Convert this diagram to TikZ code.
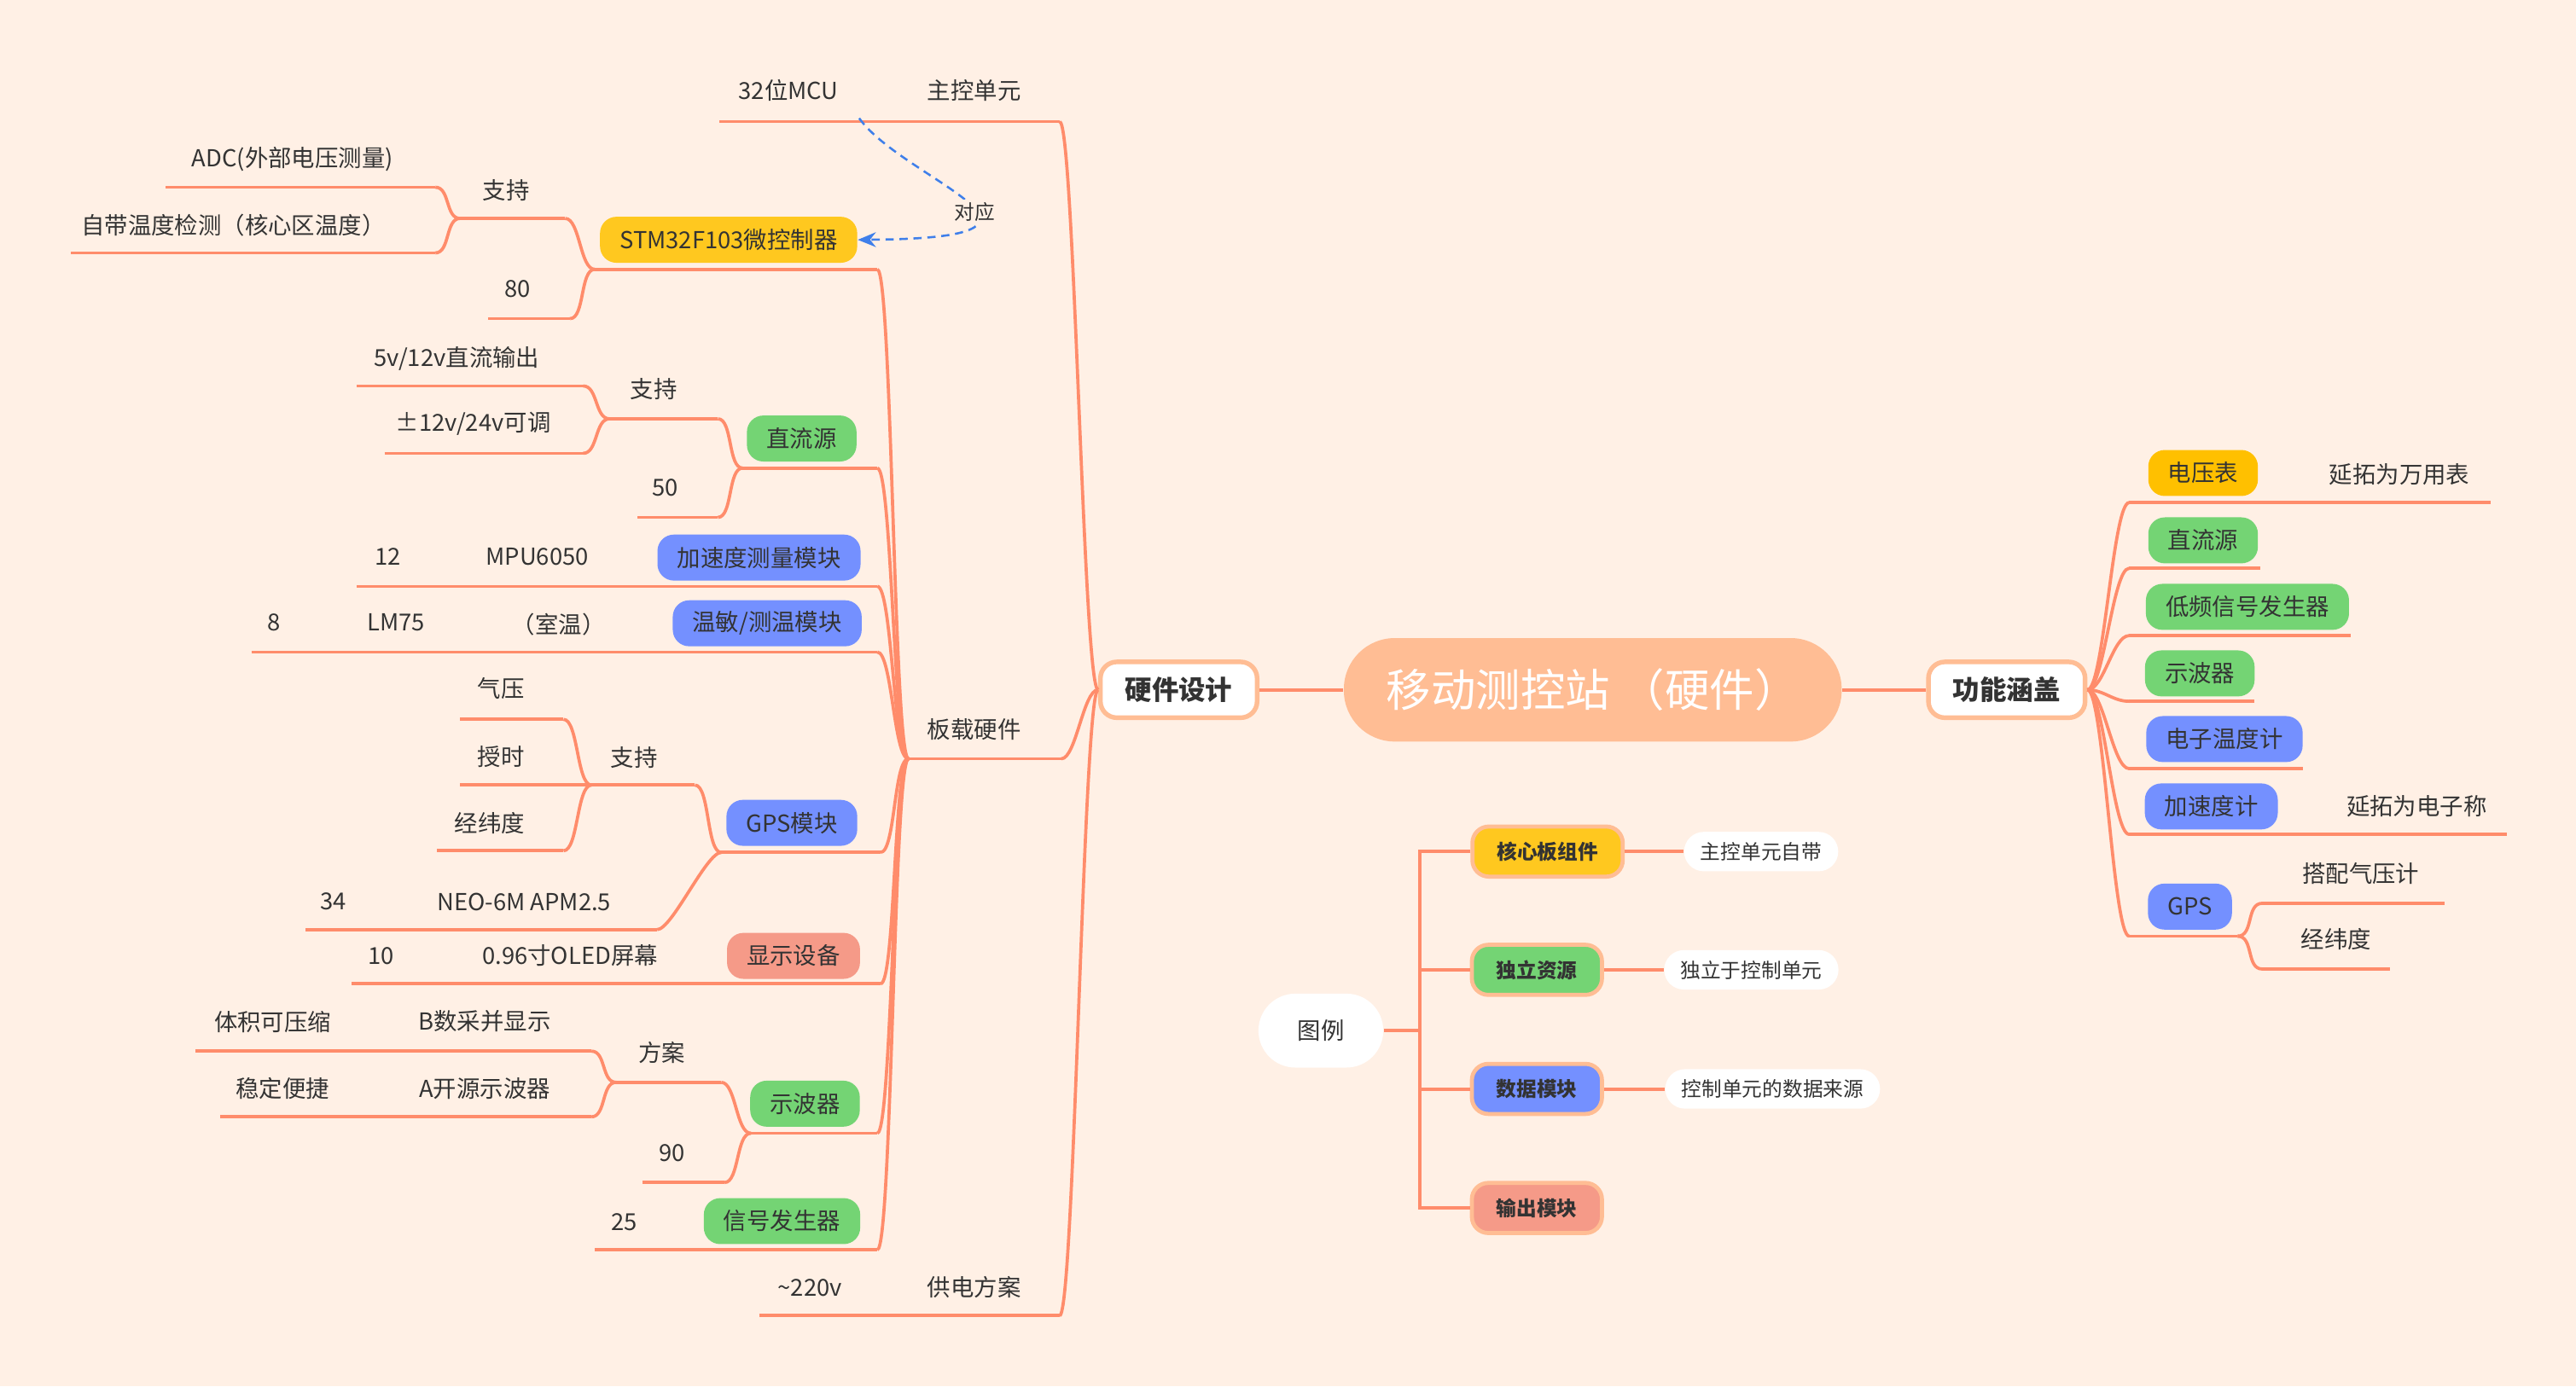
\documentclass[tikz,border=0pt]{standalone}
\usepackage{fontspec}
\setmainfont{Noto Sans CJK SC}
\usepackage{tikz}
\usetikzlibrary{arrows.meta}
\usepackage{xcolor}
\definecolor{cbg}{HTML}{FFF0E5}
\definecolor{cline}{HTML}{FF8C6B}
\definecolor{cpeach}{HTML}{FFBD94}
\definecolor{cyellow}{HTML}{FFC81F}
\definecolor{cgold}{HTML}{FFC000}
\definecolor{cgreen}{HTML}{74D474}
\definecolor{cblue}{HTML}{7490FF}
\definecolor{csalmon}{HTML}{F59A88}
\definecolor{ctext}{HTML}{333333}
\definecolor{crel}{HTML}{3F7FEA}

% underline of a topic, with its two ends as coordinates
\newcommand{\brline}[4]{%
  \coordinate (#1-l) at (#2,#4);
  \coordinate (#1-r) at (#3,#4);
  \draw[bline] (#1-l) -- (#1-r);}
\newcommand{\lcurve}[2]{\draw[bline] (#1) .. controls +(-9,0) and +(9,0) .. (#2);}
\newcommand{\rcurve}[2]{\draw[bline] (#1) .. controls +(10,0) and +(-10,0) .. (#2);}

\tikzset{
  bline/.style={draw=cline, line width=1.1pt},
  lbl/.style={font=\fontsize{8.1pt}{10pt}\selectfont, text=ctext, inner sep=1pt},
  topic/.style={rounded corners=2mm, minimum height=5.6mm, inner xsep=2.4mm,
    inner ysep=0pt, font=\fontsize{8.1pt}{10pt}\selectfont, text=ctext},
  mainbox/.style={draw=cpeach, line width=1.6pt, fill=white, rounded corners=2mm,
    minimum height=6.8mm, inner xsep=3mm, font=\fontsize{9.3pt}{11pt}\selectfont\bfseries, text=ctext},
  rootbox/.style={fill=cpeach, rounded corners=6.2mm, minimum height=12.6mm,
    minimum width=60.6mm, font=\fontsize{15.5pt}{18pt}\selectfont, text=white},
  lgbox/.style={draw=cpeach, line width=1.4pt, rounded corners=2mm, minimum height=6.1mm,
    inner xsep=3mm, inner ysep=0pt, font=\fontsize{7pt}{9pt}\selectfont\bfseries, text=ctext},
  lgnote/.style={fill=white, rounded corners=2.4mm, minimum height=4.8mm, inner xsep=2mm,
    inner ysep=0pt, font=\fontsize{7pt}{9pt}\selectfont, text=ctext},
  lgroot/.style={fill=white, rounded corners=4.5mm, minimum width=15.2mm, minimum height=9mm,
    font=\fontsize{8.1pt}{10pt}\selectfont, text=ctext},
}

\begin{document}
\begin{tikzpicture}[x=0.2mm, y=-0.2mm]
  \fill[cbg] (0,0) rectangle (1568,844);
  \useasboundingbox (0,0) rectangle (1568,844);

  % centre
  \node[rootbox] (root) at (969.5,420) {移动测控站 （硬件）};
  \node[mainbox] (hw) at (717.5,420) {硬件设计};
  \node[mainbox] (fn) at (1221.5,420) {功能涵盖};
  \draw[bline, line width=1.2pt] (root) -- (hw);
  \draw[bline, line width=1.2pt] (root) -- (fn);

  % hardware design
  \node[lbl] (ctrl) at (593,55) {主控单元};
  \node[lbl] (mcu) at (480,55) {32位MCU};
  \brline{ctrl}{536}{645}{74}
  \brline{mcu}{438}{536}{74}
  \node[lbl] (board) at (593,444) {板载硬件};
  \brline{board}{553}{646}{462}
  \node[lbl] (power) at (593,784) {供电方案};
  \node[lbl] (ac) at (493,784) {\textasciitilde220v};
  \brline{power}{540}{645}{801}
  \brline{ac}{462}{540}{801}
  \lcurve{hw.west}{ctrl-r}
  \lcurve{hw.west}{board-r}
  \lcurve{hw.west}{power-r}

  % microcontroller
  \node[topic, fill=cyellow] (stm) at (443.5,146) {STM32F103微控制器};
  \brline{stm}{362}{534}{164}
  \node[lbl] (sup1) at (308,116) {支持};
  \brline{sup1}{280}{344}{133}
  \node[lbl] (adc) at (178,97) {ADC(外部电压测量)};
  \brline{adc}{101}{265}{114}
  \node[lbl] (core) at (142,137) {自带温度检测（核心区温度）};
  \brline{core}{43}{265}{154}
  \node[lbl] (n80) at (315,176) {80};
  \brline{n80}{297}{347}{194}
  \lcurve{stm-l}{sup1-r}
  \lcurve{stm-l}{n80-r}
  \lcurve{sup1-l}{adc-r}
  \lcurve{sup1-l}{core-r}

  % dc source
  \node[topic, fill=cgreen] (dc) at (488,267) {直流源};
  \brline{dc}{452}{534}{285}
  \node[lbl] (sup2) at (398,237) {支持};
  \brline{sup2}{371}{437}{255}
  \node[lbl] (out1) at (278,218.5) {5v/12v直流输出};
  \brline{out1}{217}{355}{235}
  \node[lbl] (out2) at (288,258) {±12v/24v可调};
  \brline{out2}{234}{355}{276}
  \node[lbl] (n50) at (405,297) {50};
  \brline{n50}{388}{437}{315}
  \lcurve{dc-l}{sup2-r}
  \lcurve{dc-l}{n50-r}
  \lcurve{sup2-l}{out1-r}
  \lcurve{sup2-l}{out2-r}

  % acceleration
  \node[topic, fill=cblue] (acc) at (462,339.5) {加速度测量模块};
  \brline{acc}{401}{534}{357}
  \node[lbl] (mpu) at (327,339) {MPU6050};
  \brline{mpu}{284}{401}{357}
  \node[lbl] (n12) at (236,339) {12};
  \brline{n12}{217}{284}{357}

  % temperature
  \node[topic, fill=cblue] (temp) at (467,379.5) {温敏/测温模块};
  \brline{temp}{411}{534}{397}
  \node[lbl] (room) at (340,380) {（室温）};
  \brline{room}{290}{411}{397}
  \node[lbl] (lm) at (241,379) {LM75};
  \brline{lm}{211}{290}{397}
  \node[lbl] (n8) at (167,379) {8};
  \brline{n8}{153}{211}{397}

  % gps
  \node[topic, fill=cblue] (gps) at (482,501) {GPS模块};
  \brline{gps}{439}{536}{519}
  \node[lbl] (sup3) at (386,461) {支持};
  \brline{sup3}{360}{423}{478}
  \node[lbl] (baro1) at (305,419) {气压};
  \brline{baro1}{280}{343}{438}
  \node[lbl] (timing) at (305,460.5) {授时};
  \brline{timing}{280}{357}{478}
  \node[lbl] (ll1) at (298,501) {经纬度};
  \brline{ll1}{266}{343}{518}
  \node[lbl] (neo) at (319,549) {NEO-6M APM2.5};
  \brline{neo}{254}{400}{566}
  \node[lbl] (n34) at (203,549) {34};
  \brline{n34}{186}{254}{566}
  \lcurve{gps-l}{sup3-r}
  \lcurve{gps-l}{neo-r}
  \lcurve{sup3-l}{baro1-r}
  \lcurve{sup3-l}{timing-r}
  \lcurve{sup3-l}{ll1-r}

  % display
  \node[topic, fill=csalmon] (disp) at (483,582) {显示设备};
  \brline{disp}{444}{536}{599}
  \node[lbl] (oled) at (347,582) {0.96寸OLED屏幕};
  \brline{oled}{282}{444}{599}
  \node[lbl] (n10) at (232,582) {10};
  \brline{n10}{214}{282}{599}

  % oscilloscope
  \node[topic, fill=cgreen] (osc) at (490,672) {示波器};
  \brline{osc}{457}{534}{690}
  \node[lbl] (plan) at (403,641) {方案};
  \brline{plan}{375}{439}{659}
  \node[lbl] (planb) at (295,622) {B数采并显示};
  \brline{planb}{244}{360}{640}
  \node[lbl] (small) at (166,622) {体积可压缩};
  \brline{small}{119}{244}{640}
  \node[lbl] (plana) at (295,663) {A开源示波器};
  \brline{plana}{244}{360}{680}
  \node[lbl] (stable) at (172,663) {稳定便捷};
  \brline{stable}{134}{244}{680}
  \node[lbl] (n90) at (409,702) {90};
  \brline{n90}{391}{441}{720}
  \lcurve{osc-l}{plan-r}
  \lcurve{osc-l}{n90-r}
  \lcurve{plan-l}{planb-r}
  \lcurve{plan-l}{plana-r}

  % signal generator
  \node[topic, fill=cgreen] (sig) at (476,743.5) {信号发生器};
  \brline{sig}{430}{534}{761}
  \node[lbl] (n25) at (380,744) {25};
  \brline{n25}{362}{430}{761}

  \lcurve{board-l}{stm-r}
  \lcurve{board-l}{dc-r}
  \lcurve{board-l}{acc-r}
  \lcurve{board-l}{temp-r}
  \lcurve{board-l}{gps-r}
  \lcurve{board-l}{disp-r}
  \lcurve{board-l}{osc-r}
  \lcurve{board-l}{sig-r}

  % relation
  \coordinate (relA) at (523,72);
  \draw[crel, line width=0.75pt, dash pattern=on 1mm off 0.7mm, -{Stealth[length=2.2mm,width=1.8mm]}]
    (relA) .. controls (550,110) and (670,145) .. (stm.east)
    node[pos=0.58, fill=cbg, inner sep=1pt, text=ctext, font=\fontsize{7pt}{9pt}\selectfont] {对应};

  % functions
  \node[topic, fill=cgold] (vm) at (1341,288) {电压表};
  \brline{vm}{1296}{1376}{306}
  \node[lbl] (ext1) at (1460.5,289) {延拓为万用表};
  \brline{ext1}{1376}{1516}{306}
  \node[topic, fill=cgreen] (dcr) at (1341,329) {直流源};
  \brline{dcr}{1296}{1376}{346}
  \node[topic, fill=cgreen] (lfg) at (1368,369.5) {低频信号发生器};
  \brline{lfg}{1296}{1431}{387}
  \node[topic, fill=cgreen] (oscr) at (1339,410) {示波器};
  \brline{oscr}{1296}{1372}{427}
  \node[topic, fill=cblue] (therm) at (1354,450) {电子温度计};
  \brline{therm}{1296}{1402}{468}
  \node[topic, fill=cblue] (accr) at (1346,491) {加速度计};
  \brline{accr}{1296}{1386}{508}
  \node[lbl] (ext2) at (1471,491) {延拓为电子称};
  \brline{ext2}{1386}{1526}{508}
  \node[topic, fill=cblue] (gpsr) at (1333,552) {GPS};
  \brline{gpsr}{1296}{1362}{570}
  \node[lbl] (baro2) at (1437,532) {搭配气压计};
  \brline{baro2}{1377}{1488}{550}
  \node[lbl] (ll2) at (1422,572) {经纬度};
  \brline{ll2}{1377}{1455}{590}
  \rcurve{fn.east}{vm-l}
  \rcurve{fn.east}{dcr-l}
  \rcurve{fn.east}{lfg-l}
  \rcurve{fn.east}{oscr-l}
  \rcurve{fn.east}{therm-l}
  \rcurve{fn.east}{accr-l}
  \rcurve{fn.east}{gpsr-l}
  \rcurve{gpsr-r}{baro2-l}
  \rcurve{gpsr-r}{ll2-l}

  % legend
  \node[lgroot] (lg) at (804,627.5) {图例};
  \node[lgbox, fill=cyellow] (lg1) at (942,518.5) {核心板组件};
  \node[lgbox, fill=cgreen] (lg2) at (935.5,590.5) {独立资源};
  \node[lgbox, fill=cblue] (lg3) at (935.5,663) {数据模块};
  \node[lgbox, fill=csalmon] (lg4) at (935.5,735.5) {输出模块};
  \node[lgnote] (d1) at (1072,518.5) {主控单元自带};
  \node[lgnote] (d2) at (1066,590.5) {独立于控制单元};
  \node[lgnote] (d3) at (1079,663) {控制单元的数据来源};
  \coordinate (trunk) at (864,627.5);
  \draw[bline, line width=1.2pt] (lg.east) -- (trunk);
  \foreach \k in {lg1,lg2,lg3,lg4}
    \draw[bline, line width=1.2pt] (\k.west) -| (trunk);
  \draw[bline, line width=1.2pt] (lg1) -- (d1);
  \draw[bline, line width=1.2pt] (lg2) -- (d2);
  \draw[bline, line width=1.2pt] (lg3) -- (d3);
\end{tikzpicture}
\end{document}
